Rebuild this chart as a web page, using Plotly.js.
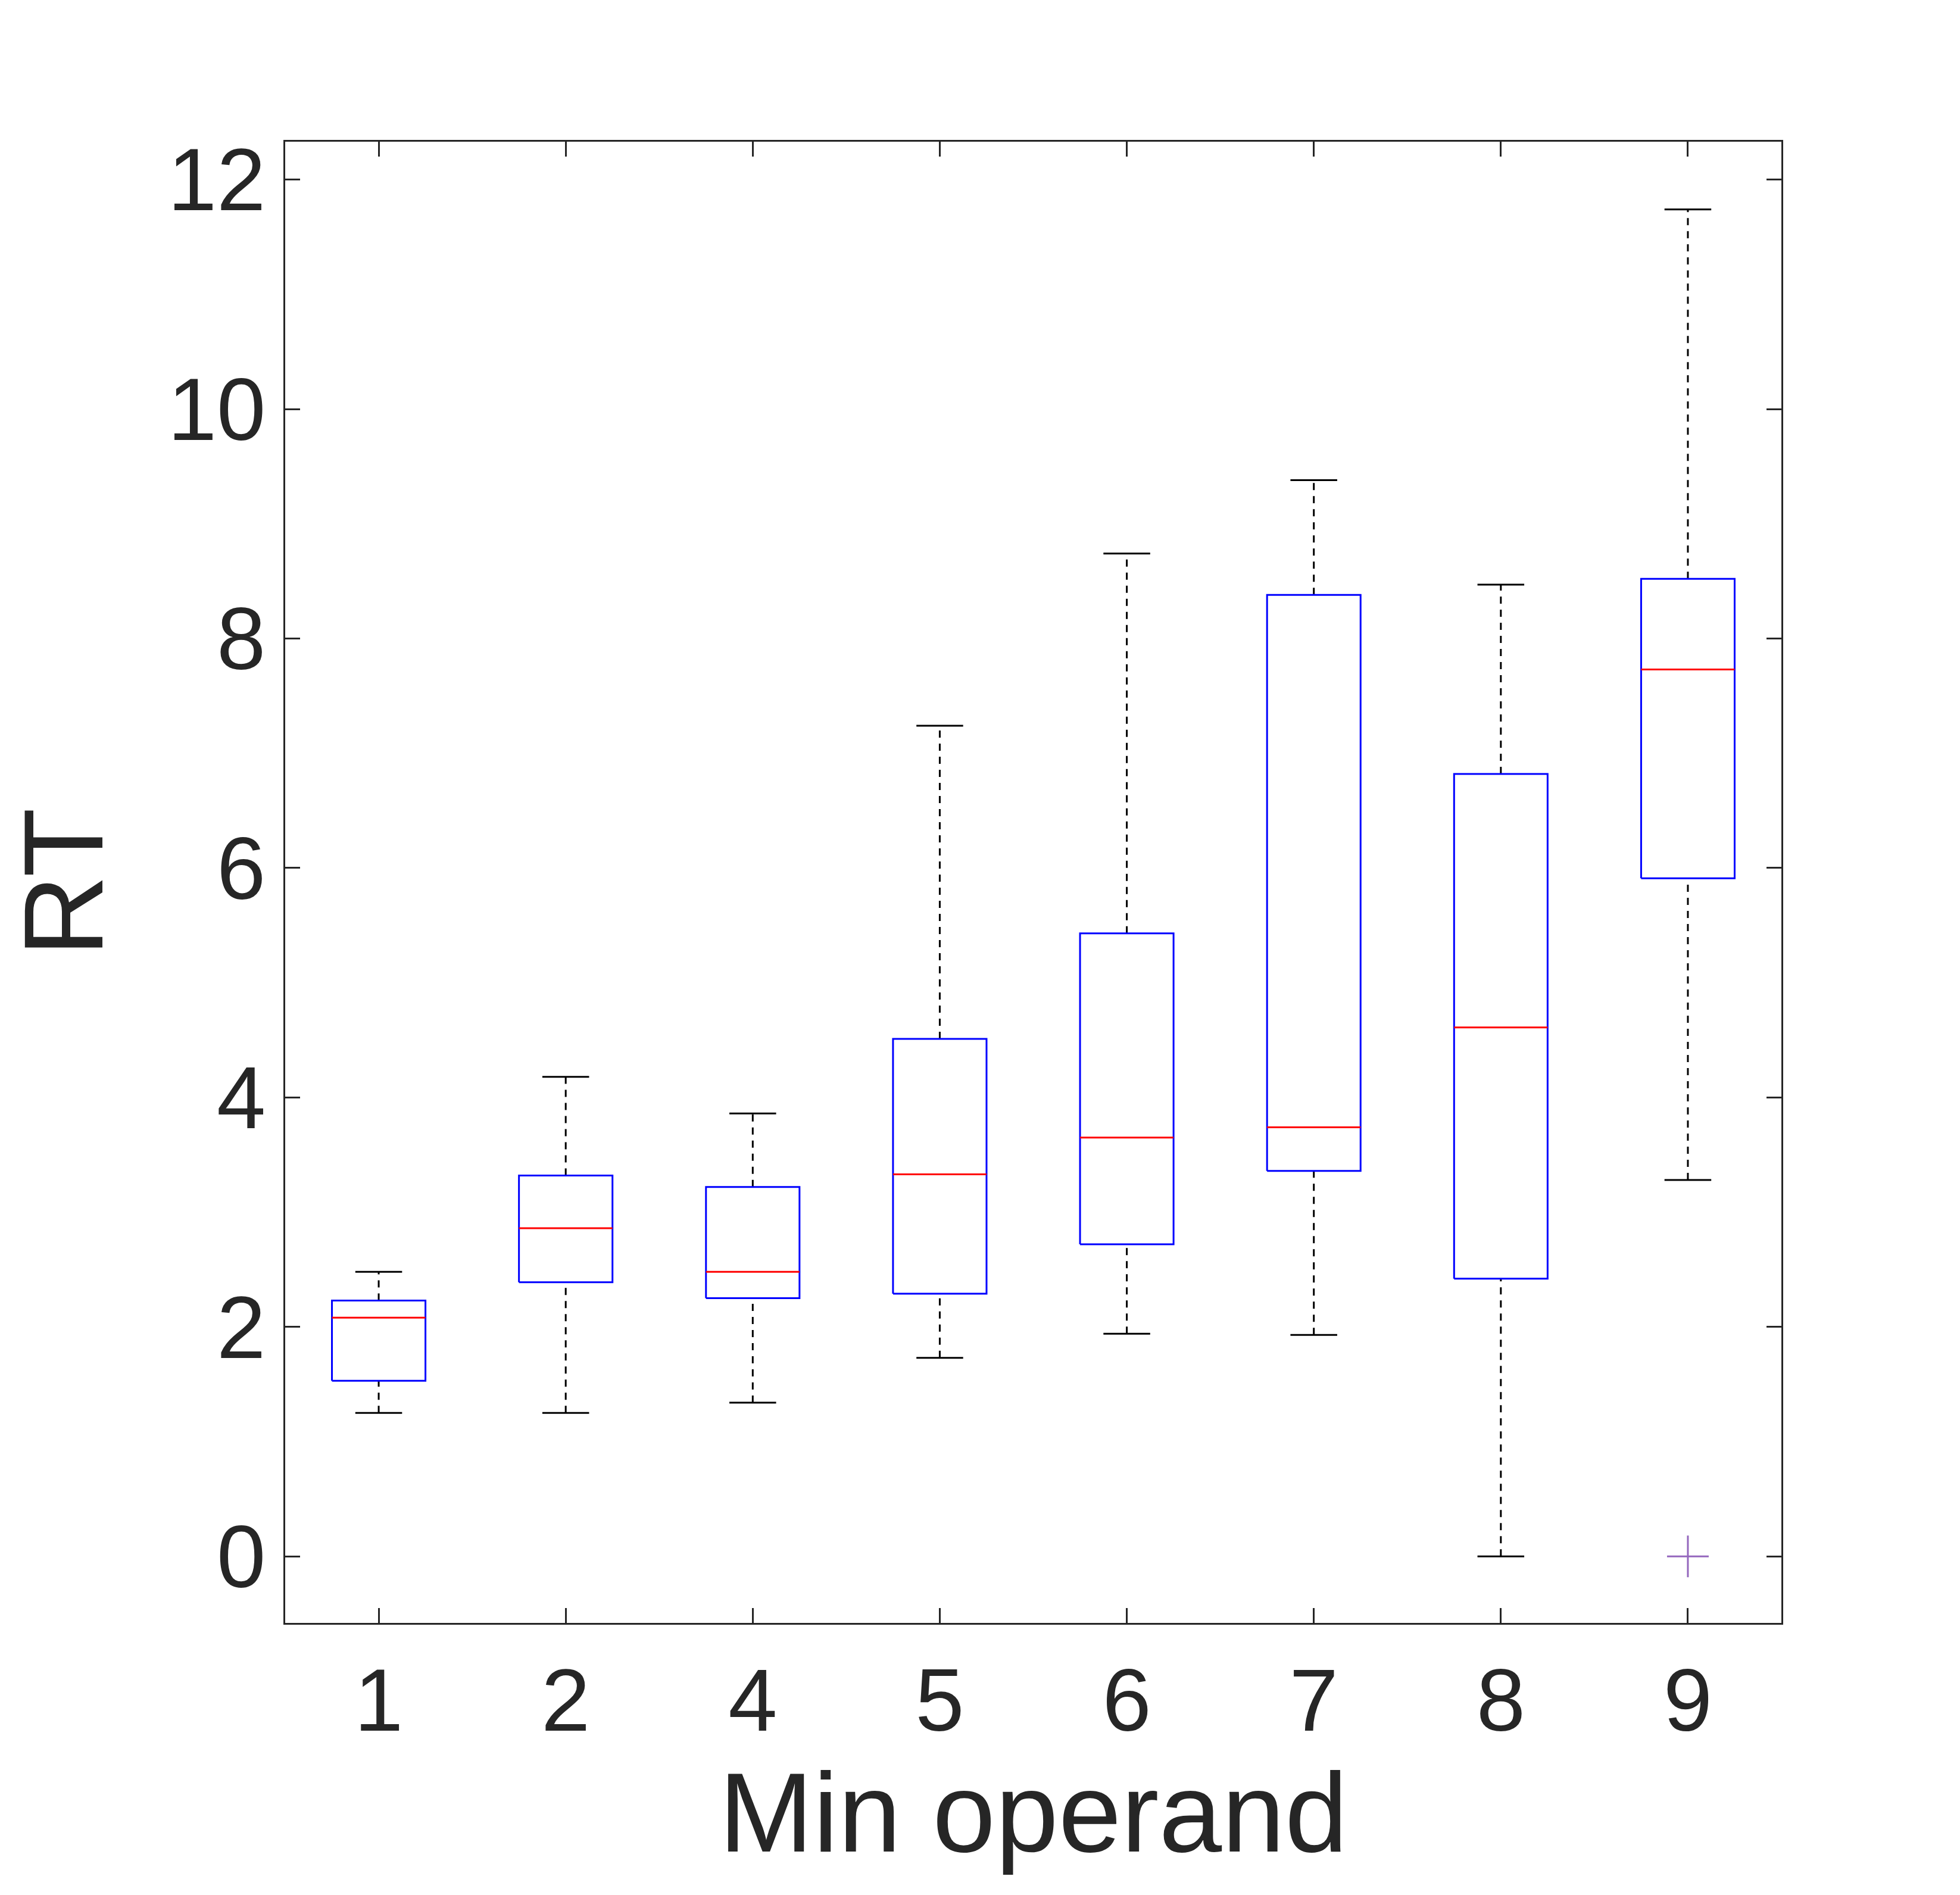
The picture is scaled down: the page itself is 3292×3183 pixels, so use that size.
<!DOCTYPE html>
<html>
<head>
<script src="https://cdn.plot.ly/plotly-3.0.1.min.js"></script>
<style>body{margin:0;background:#fff}</style>
</head>
<body>
<div id="myDiv" style="width:3292px;height:3183px"></div>
<script>
var categories = ['1', '2', '4', '5', '6', '7', '8', '9'];
var lowerWhisker = [1.25, 1.25, 1.34, 1.73, 1.94, 1.93, 0.0, 3.28];
var q1 = [1.53, 2.39, 2.25, 2.29, 2.72, 3.36, 2.42, 5.91];
var medians = [2.08, 2.86, 2.48, 3.33, 3.65, 3.74, 4.61, 7.73];
var q3 = [2.23, 3.32, 3.22, 4.51, 5.43, 8.38, 6.82, 8.52];
var upperWhisker = [2.48, 4.18, 3.86, 7.24, 8.74, 9.38, 8.47, 11.74];
var outlierCat = [7];
var outlierVal = [0];

var bw = 0.25, cw = 0.125;
var data = [];
var wx = [], wy = [], cx = [], cy = [], bx = [], by = [], mx = [], my = [];
for (var i = 0; i < categories.length; i++) {
  // dashed whiskers
  wx.push(i, i, null, i, i, null);
  wy.push(q3[i], upperWhisker[i], null, lowerWhisker[i], q1[i], null);
  // caps
  cx.push(i - cw, i + cw, null, i - cw, i + cw, null);
  cy.push(upperWhisker[i], upperWhisker[i], null, lowerWhisker[i], lowerWhisker[i], null);
  // box
  bx.push(i - bw, i + bw, i + bw, i - bw, i - bw, null);
  by.push(q1[i], q1[i], q3[i], q3[i], q1[i], null);
  // median
  mx.push(i - bw, i + bw, null);
  my.push(medians[i], medians[i], null);
}
data.push({x: wx, y: wy, mode: 'lines', line: {color: '#000', width: 3, dash: '12px,10px'}});
data.push({x: cx, y: cy, mode: 'lines', line: {color: '#000', width: 3}});
data.push({x: bx, y: by, mode: 'lines', line: {color: '#0000ff', width: 3}});
data.push({x: mx, y: my, mode: 'lines', line: {color: '#ff0000', width: 3}});
data.push({x: outlierCat, y: outlierVal, mode: 'markers',
  marker: {symbol: 'cross-thin-open', size: 50, line: {color: '#ff0000', width: 3}}});

var font = {family: 'Liberation Sans, Arial, sans-serif', color: '#262626', size: 148};
var layout = {
  showlegend: false,
  paper_bgcolor: '#fff', plot_bgcolor: '#fff',
  margin: {l: 479, r: 300, t: 238, b: 457},
  font: font,
  xaxis: {
    range: [-0.5, 7.5], tickvals: [0, 1, 2, 3, 4, 5, 6, 7], ticktext: categories,
    showgrid: false, zeroline: false, showline: true, mirror: 'ticks',
    linecolor: '#262626', linewidth: 3, ticks: 'inside', ticklen: 25, tickwidth: 3,
    tickcolor: '#262626', tickfont: font,
    title: {text: 'Min operand', font: {family: font.family, color: '#262626', size: 190}, standoff: 40}
  },
  yaxis: {
    range: [-0.58, 12.33], tickvals: [0, 2, 4, 6, 8, 10, 12],
    showgrid: false, zeroline: false, showline: true, mirror: 'ticks',
    linecolor: '#262626', linewidth: 3, ticks: 'inside', ticklen: 25, tickwidth: 3,
    tickcolor: '#262626', tickfont: font,
    title: {text: 'RT', font: {family: font.family, color: '#262626', size: 190}, standoff: 50}
  }
};
Plotly.newPlot('myDiv', data, layout, {displayModeBar: false});
</script>
</body>
</html>
